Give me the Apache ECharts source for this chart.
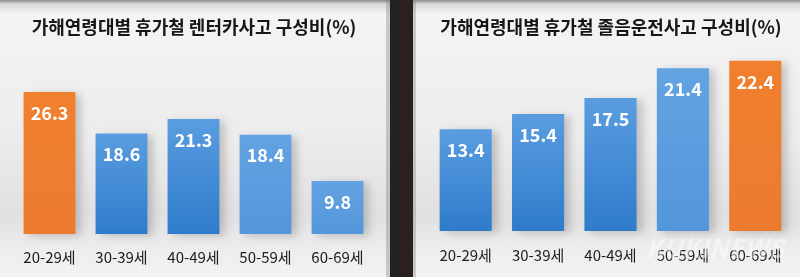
<!DOCTYPE html>
<html>
<head>
<meta charset="utf-8">
<script src="https://cdn.jsdelivr.net/npm/echarts@6/dist/echarts.min.js"></script>
<style>
html,body{margin:0;padding:0;background:#2a211f;}
#c{width:800px;height:277px;}
</style>
</head>
<body>
<div id="c"></div>
<script>
const categories = ['20-29세', '30-39세', '40-49세', '50-59세', '60-69세'];
const rentalValues = [26.3, 18.6, 21.3, 18.4, 9.8];
const drowsyValues = [13.4, 15.4, 17.5, 21.4, 22.4];
const titles = ['가해연령대별 휴가철 렌터카사고 구성비(%)', '가해연령대별 휴가철 졸음운전사고 구성비(%)'];

const FONT = '"Noto Sans CJK KR", "Noto Sans", sans-serif';

function blueGrad(light) {
  return new echarts.graphic.LinearGradient(0, 0, 0, 1, light
    ? [{offset: 0, color: '#62a3e2'}, {offset: 1, color: '#5396da'}]
    : [{offset: 0, color: '#5a9de0'}, {offset: 1, color: '#2f7bcb'}]);
}
function orangeGrad() {
  return new echarts.graphic.LinearGradient(0, 0, 0, 1,
    [{offset: 0, color: '#f0802e'}, {offset: 1, color: '#ec7b30'}]);
}
function makeData(vals, lightIdx) {
  const maxV = Math.max.apply(null, vals);
  return vals.map((v, i) => ({
    value: v,
    itemStyle: {color: v === maxV ? orangeGrad() : blueGrad(lightIdx.indexOf(i) >= 0)}
  }));
}

function panelBg(x, w) {
  return {
    type: 'rect', silent: true, z: -10,
    shape: {x: x, y: 0, width: w, height: 277},
    style: {fill: new echarts.graphic.LinearGradient(0, 0, 0, 1, [
      {offset: 0, color: '#8c8c8c'},
      {offset: 0.014, color: '#d8d8d8'},
      {offset: 0.05, color: '#f4f4f4'},
      {offset: 0.5, color: '#ececec'},
      {offset: 0.78, color: '#e0e0e0'},
      {offset: 0.9, color: '#ededed'},
      {offset: 1, color: '#f3f3f3'}
    ])}
  };
}

const chart = echarts.init(document.getElementById('c'));
const labelCommon = {
  show: true, position: 'insideTop', distance: 12,
  color: '#ffffff', fontSize: 18, fontWeight: 'bold', fontFamily: FONT
};
const seriesCommon = {
  type: 'bar', barCategoryGap: '28%',
  label: labelCommon,
  itemStyle: {shadowColor: 'rgba(0,0,0,0.18)', shadowBlur: 8, shadowOffsetX: 6, shadowOffsetY: 2},
  emphasis: {disabled: true}
};
const xCommon = {
  type: 'category', data: categories,
  axisLine: {show: false}, axisTick: {show: false},
  axisLabel: {color: '#1e1e1e', fontSize: 15, fontFamily: FONT, margin: 16}
};
const yCommon = {type: 'value', min: 0, show: false, splitLine: {show: false}};

chart.setOption({
  animation: false,
  backgroundColor: '#2a211f',
  graphic: [
    panelBg(0, 390),
    {type: 'rect', silent: true, z: -9, shape: {x: 386, y: 0, width: 4, height: 277}, style: {fill: 'rgba(120,120,120,0.35)'}},
    {type: 'rect', silent: true, z: -9, shape: {x: 390, y: 0, width: 7, height: 277}, style: {fill: '#222222'}},
    panelBg(413, 387),
    {type: 'rect', silent: true, z: -9, shape: {x: 413, y: 0, width: 3, height: 277}, style: {fill: 'rgba(140,140,140,0.4)'}},
    {type: 'text', silent: true, style: {x: 194, y: 27, text: titles[0], textAlign: 'center', textVerticalAlign: 'middle',
      fill: '#161616', font: 'bold 18px ' + FONT}},
    {type: 'text', silent: true, style: {x: 611, y: 27, text: titles[1], textAlign: 'center', textVerticalAlign: 'middle',
      fill: '#161616', font: 'bold 18px ' + FONT}},
    {type: 'text', silent: true, z: 100, style: {x: 715, y: 248, text: 'KUKINEWS', textAlign: 'center', textVerticalAlign: 'middle',
      fill: 'rgba(255,255,255,0.45)', font: 'italic bold 26px ' + FONT}}
  ],
  grid: [
    {left: 13.5, right: 426.5, top: 72, bottom: 43},
    {left: 429.5, right: 8.5, top: 41, bottom: 46}
  ],
  xAxis: [
    Object.assign({gridIndex: 0}, xCommon),
    Object.assign({gridIndex: 1}, xCommon, {axisLabel: Object.assign({}, xCommon.axisLabel, {margin: 17})})
  ],
  yAxis: [
    Object.assign({gridIndex: 0, max: 30}, yCommon),
    Object.assign({gridIndex: 1, max: 25}, yCommon)
  ],
  series: [
    Object.assign({}, seriesCommon, {xAxisIndex: 0, yAxisIndex: 0, data: makeData(rentalValues, [3, 4])}),
    Object.assign({}, seriesCommon, {xAxisIndex: 1, yAxisIndex: 1, data: makeData(drowsyValues, [3])})
  ]
});
</script>
</body>
</html>
